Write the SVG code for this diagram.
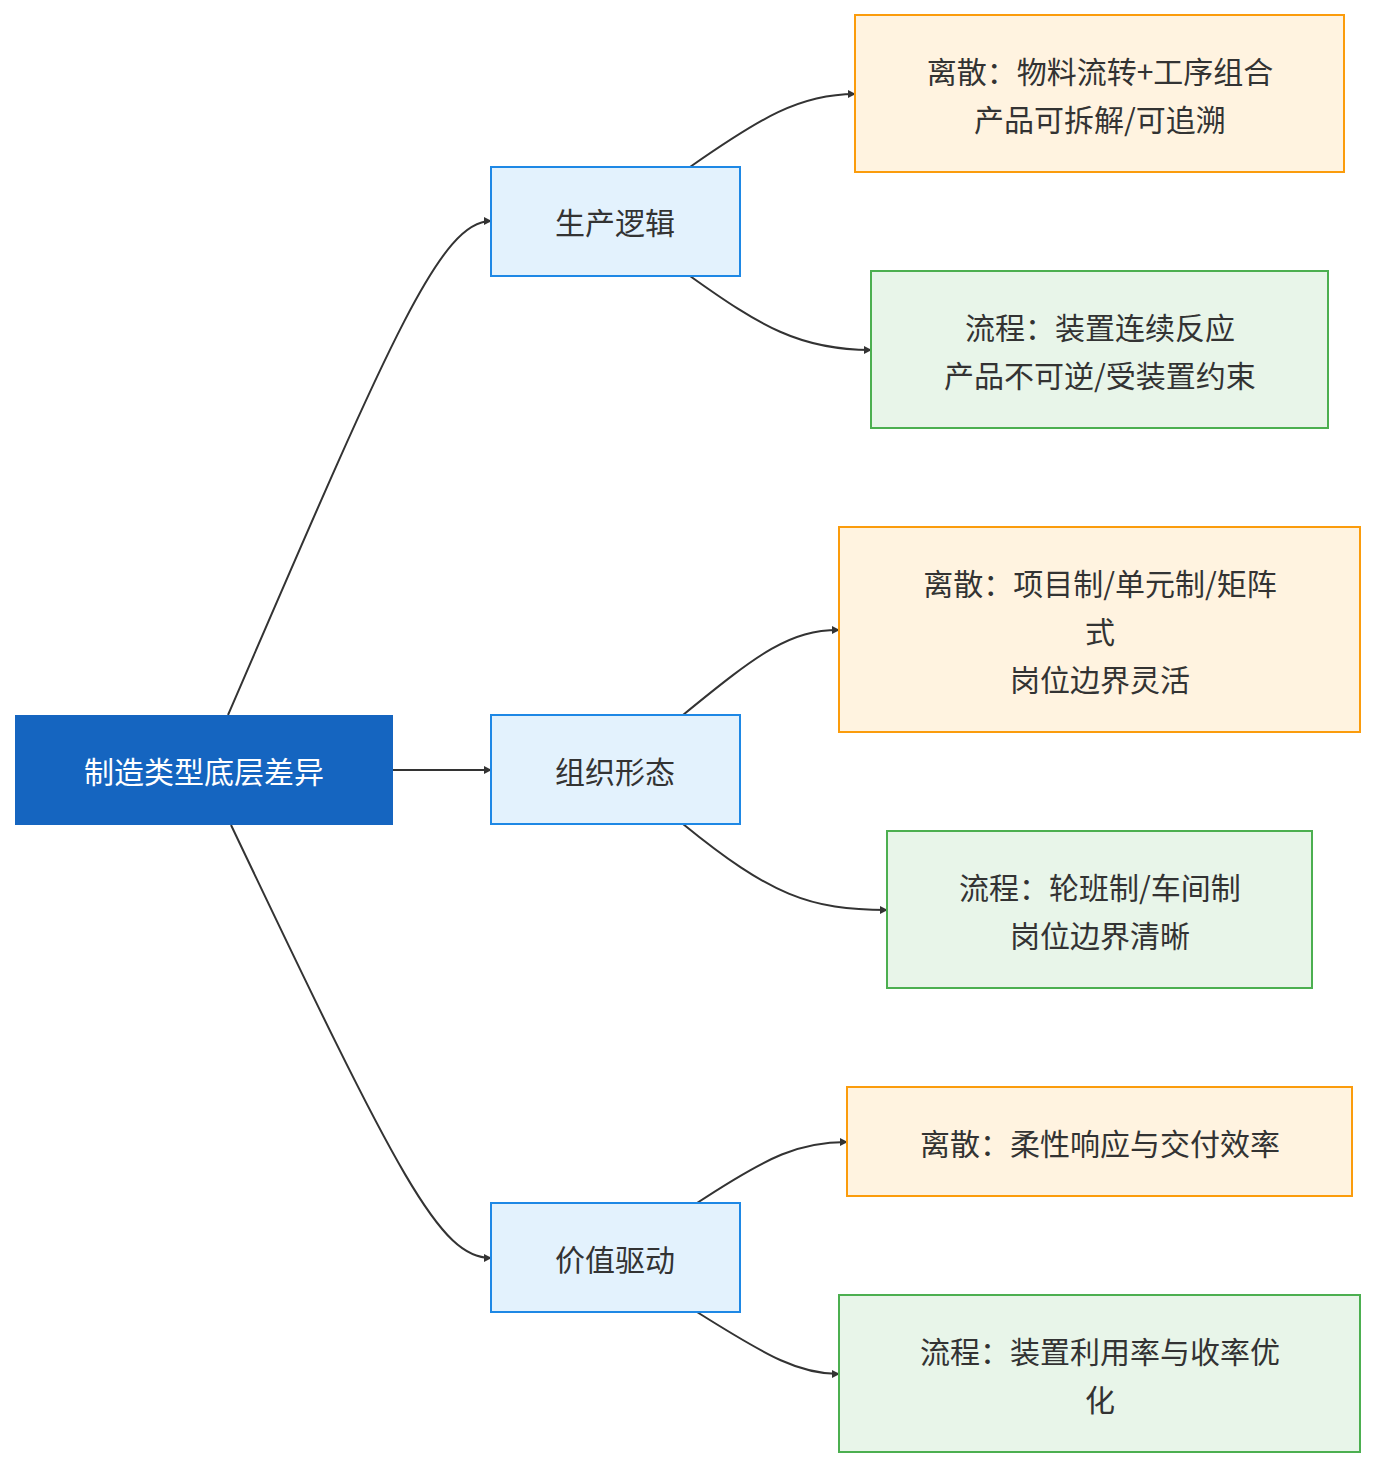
<svg xmlns="http://www.w3.org/2000/svg" width="1376" height="1468" viewBox="0 0 1376 1468">
<style>
text{font-family:"Noto Sans CJK SC","Noto Sans",sans-serif;font-size:30px;fill:#333;text-anchor:middle;dominant-baseline:central}
.mid{fill:#E3F2FD;stroke:#1E88E5;stroke-width:2}
.o{fill:#FFF3E0;stroke:#FB9C0C;stroke-width:2}
.g{fill:#E8F5E9;stroke:#4CAF50;stroke-width:2}
.e{fill:none;stroke:#333;stroke-width:2;marker-end:url(#a)}
</style>
<defs><marker id="a" viewBox="0 0 10 10" refX="9" refY="5" markerWidth="8" markerHeight="8" markerUnits="userSpaceOnUse" orient="auto"><path d="M0,0L10,5L0,10z" fill="#333"/></marker></defs>
<rect width="1376" height="1468" fill="#fff"/>
<g id="edges">
<path class="e" d="M228,715 C390,340 440,221 491,221"/>
<path class="e" d="M393,770 L491,770"/>
<path class="e" d="M231,825 C400,1180 440,1258 491,1258"/>
<path class="e" d="M690,167 C760,118 800,94 855,94"/>
<path class="e" d="M690,276 C760,326 800,350 871,350"/>
<path class="e" d="M683,715 C760,652 790,630 839,630"/>
<path class="e" d="M683,824 C770,895 810,910 887,910"/>
<path class="e" d="M697,1203 C770,1155 800,1142 847,1142"/>
<path class="e" d="M697,1312 C770,1358 800,1374 839,1374"/>
</g>
<g id="root"><rect x="15" y="715" width="378" height="110" fill="#1565C0"/><text x="204" y="770" style="fill:#fff">制造类型底层差异</text></g>
<g id="m1"><rect class="mid" x="491" y="167" width="249" height="109"/><text x="615" y="221">生产逻辑</text></g>
<g id="m2"><rect class="mid" x="491" y="715" width="249" height="109"/><text x="615" y="770">组织形态</text></g>
<g id="m3"><rect class="mid" x="491" y="1203" width="249" height="109"/><text x="615" y="1258">价值驱动</text></g>
<g id="o1"><rect class="o" x="855" y="15" width="489" height="157"/><text x="1100" y="70">离散：物料流转+工序组合</text><text x="1100" y="118">产品可拆解/可追溯</text></g>
<g id="g1"><rect class="g" x="871" y="271" width="457" height="157"/><text x="1100" y="326">流程：装置连续反应</text><text x="1100" y="374">产品不可逆/受装置约束</text></g>
<g id="o2"><rect class="o" x="839" y="527" width="521" height="205"/><text x="1100" y="582">离散：项目制/单元制/矩阵</text><text x="1100" y="630">式</text><text x="1100" y="678">岗位边界灵活</text></g>
<g id="g2"><rect class="g" x="887" y="831" width="425" height="157"/><text x="1100" y="886">流程：轮班制/车间制</text><text x="1100" y="934">岗位边界清晰</text></g>
<g id="o3"><rect class="o" x="847" y="1087" width="505" height="109"/><text x="1100" y="1142">离散：柔性响应与交付效率</text></g>
<g id="g3"><rect class="g" x="839" y="1295" width="521" height="157"/><text x="1100" y="1350">流程：装置利用率与收率优</text><text x="1100" y="1398">化</text></g>
</svg>
